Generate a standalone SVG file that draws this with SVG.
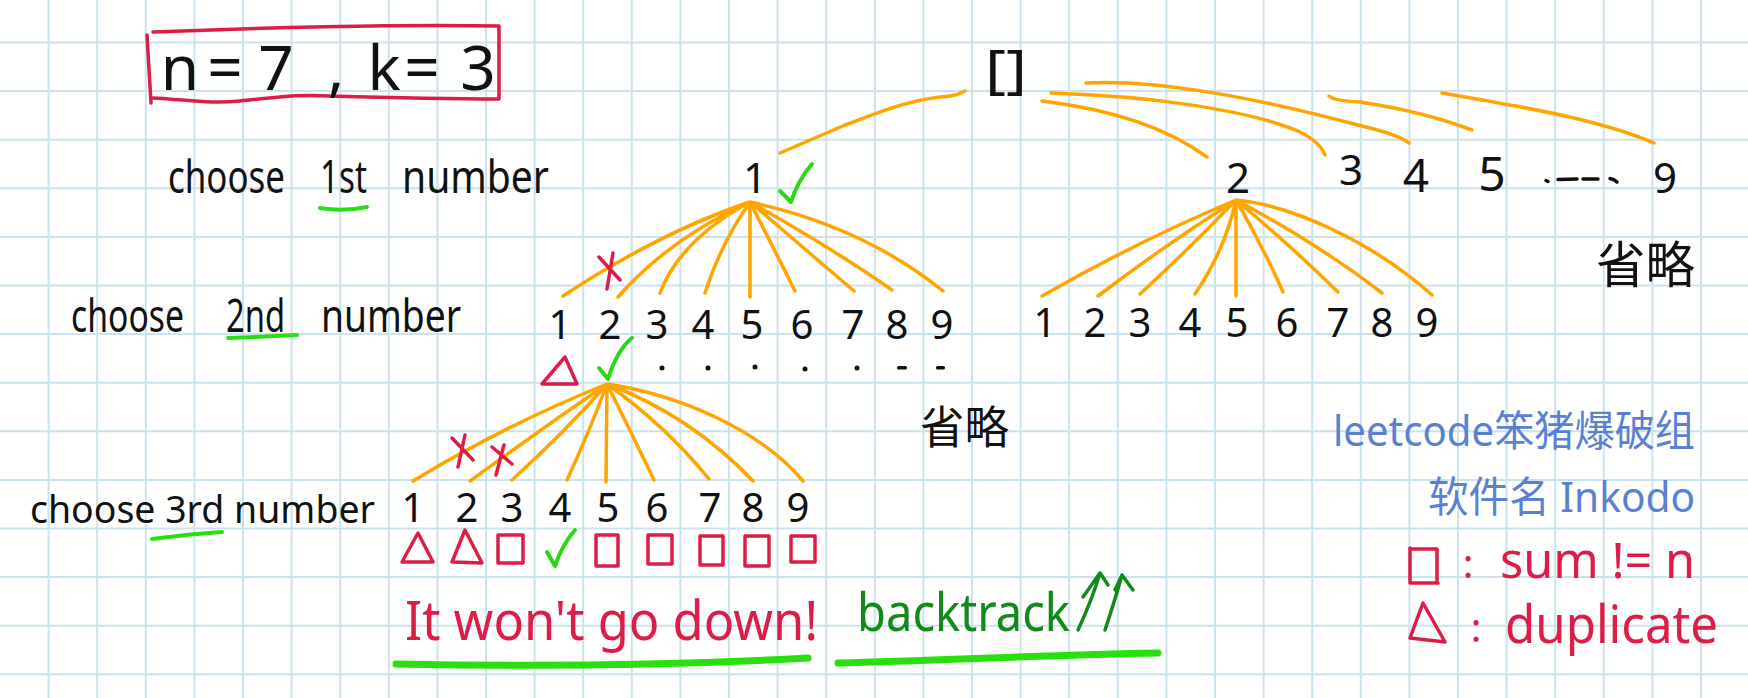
<svg xmlns="http://www.w3.org/2000/svg" width="1748" height="698" viewBox="0 0 1748 698">
<style>
.grid{stroke:#cbe3ec;stroke-width:2;fill:none}
.br{fill:none;stroke:#ffa500;stroke-width:3.5;stroke-linecap:round;stroke-linejoin:round}
.rd{fill:none;stroke:#dc1d48;stroke-width:3.5;stroke-linecap:round;stroke-linejoin:round}
.ck{fill:none;stroke:#2bd615;stroke-width:4;stroke-linecap:round;stroke-linejoin:round}
.ul{fill:none;stroke:#27e00e;stroke-width:4;stroke-linecap:round}
.ulb{fill:none;stroke:#27e00e;stroke-width:7;stroke-linecap:round}
.t{font-family:"Noto Sans","DejaVu Sans","Noto Sans CJK SC",sans-serif;fill:#111}
.d{font-family:"Noto Sans","DejaVu Sans",sans-serif;fill:#111;text-anchor:middle}
.cjk{font-family:"Noto Sans CJK SC","Noto Sans",sans-serif;fill:#111}
.blue{font-family:"Noto Sans","Noto Sans CJK SC",sans-serif;fill:#5b7fd3}
.red{font-family:"Noto Sans","DejaVu Sans",sans-serif;fill:#dc1d48}
.dot{fill:#111}
</style>
<rect width="1748" height="698" fill="#ffffff"/>
<g id="grid">
<path class="grid" d="M48.6 0V698M97.2 0V698M145.8 0V698M194.4 0V698M243 0V698M291.6 0V698M340.2 0V698M388.8 0V698M437.4 0V698M486 0V698M534.6 0V698M583.2 0V698M631.8 0V698M680.4 0V698M729 0V698M777.6 0V698M826.2 0V698M874.8 0V698M923.4 0V698M972 0V698M1020.6 0V698M1069.2 0V698M1117.8 0V698M1166.4 0V698M1215 0V698M1263.6 0V698M1312.2 0V698M1360.8 0V698M1409.4 0V698M1458 0V698M1506.6 0V698M1555.2 0V698M1603.8 0V698M1652.4 0V698M1701 0V698"/>
<path class="grid" d="M0 42.5H1748M0 91.1H1748M0 139.7H1748M0 188.3H1748M0 236.9H1748M0 285.5H1748M0 334.1H1748M0 382.7H1748M0 431.3H1748M0 479.9H1748M0 528.5H1748M0 577.1H1748M0 625.7H1748M0 674.3H1748"/>
</g>

<g id="title">
<path class="rd" d="M147 35 L151 103 M153 32 C250 28 400 24 499 26 L499 99 M153 98 C190 100 210 104 240 101 C280 97 300 94 330 96 C400 98 450 99 499 99"/>
<text class="t" font-size="62" y="90" text-anchor="middle"><tspan x="180">n</tspan><tspan x="225">=</tspan><tspan x="276">7</tspan><tspan x="336">,</tspan><tspan x="384">k</tspan><tspan x="422">=</tspan><tspan x="478">3</tspan></text>
</g>

<g id="labels">
<text class="t" font-size="45" x="168" y="193" textLength="117" lengthAdjust="spacingAndGlyphs">choose</text>
<text class="t" font-size="45" x="320" y="193" textLength="47" lengthAdjust="spacingAndGlyphs">1st</text>
<text class="t" font-size="45" x="402" y="193" textLength="147" lengthAdjust="spacingAndGlyphs">number</text>
<path class="ul" d="M320 208 Q343 212 367 207"/>
<text class="t" font-size="45" x="71" y="332" textLength="113" lengthAdjust="spacingAndGlyphs">choose</text>
<text class="t" font-size="45" x="226" y="332" textLength="59" lengthAdjust="spacingAndGlyphs">2nd</text>
<text class="t" font-size="45" x="321" y="332" textLength="140" lengthAdjust="spacingAndGlyphs">number</text>
<path class="ul" d="M228 338 Q260 337 297 335"/>
<text class="t" font-size="39" x="30" y="523" textLength="345" lengthAdjust="spacingAndGlyphs">choose 3rd number</text>
<path class="ul" d="M152 539 Q190 534 222 532"/>
</g>

<g id="connectors">
<path class="br" d="M965 91 Q958 95 950 96 C910 99 880 112 845 125 L780 153"/>
<path class="br" d="M1042 101 C1117 110 1170 130 1207 157"/>
<path class="br" d="M1051 93 C1150 96 1250 110 1300 132 Q1320 142 1325 155"/>
<path class="br" d="M1086 83 C1150 79 1250 96 1358 125 Q1400 135 1409 143"/>
<path class="br" d="M1329 96 Q1335 101 1360 102 C1400 108 1440 118 1472 130"/>
<path class="br" d="M1442 93 C1530 108 1600 120 1654 143"/>
<path class="br" d="M750 202 Q660 232 563 296 M750 202 Q670 238 618 297 M750 202 Q680 240 660 293 M750 202 Q720 245 705 293 M750 202 L750 297 M750 202 Q772 245 795 291 M750 202 Q800 245 854 291 M750 202 Q835 250 892 290 M750 202 C810 215 880 240 943 291"/>
<path class="br" d="M1236 200 Q1140 240 1042 296 M1236 200 Q1165 245 1098 296 M1236 200 Q1190 248 1140 294 M1236 200 Q1225 250 1195 294 M1236 200 L1236 296 M1236 200 Q1262 245 1283 292 M1236 200 Q1290 245 1338 292 M1236 200 Q1320 245 1382 293 M1236 200 C1290 205 1370 240 1432 295"/>
<path class="br" d="M607 384 Q505 425 413 481 M607 384 Q540 430 470 481 M607 384 Q565 432 512 480 M607 384 Q590 430 567 480 M607 384 L606 482 M607 384 Q630 430 654 480 M607 384 Q665 425 709 479 M607 384 Q690 415 753 481 M607 384 C680 395 760 430 803 481"/>
</g>

<g id="root"><text class="t" font-size="52" x="985" y="88" textLength="42" lengthAdjust="spacingAndGlyphs">[]</text></g>

<g id="level1">
<text class="d" font-size="42" x="755" y="193">1</text>
<path class="ck" d="M780 191 L791 202 Q798 180 812 164"/>
<text class="d" font-size="42" x="1238" y="193">2</text>
<text class="d" font-size="42" x="1351" y="185">3</text>
<text class="d" font-size="46" x="1416" y="192">4</text>
<text class="d" font-size="48" x="1492" y="191">5</text>
<path d="M1546 180.5 L1548 181.5 M1558 179.5 L1577 179 M1583 179 L1598 179 M1610 178.5 Q1614 179 1617 182" fill="none" stroke="#111" stroke-width="3.5" stroke-linecap="round"/>
<text class="d" font-size="42" x="1665" y="193">9</text>
<text class="cjk" font-size="50" x="1596" y="283" textLength="99" lengthAdjust="spacingAndGlyphs">省略</text>
</g>

<g id="level2-from1">
<text class="d" font-size="40" y="339"><tspan x="560">1</tspan><tspan x="610">2</tspan><tspan x="657">3</tspan><tspan x="703">4</tspan><tspan x="752">5</tspan><tspan x="802">6</tspan><tspan x="853">7</tspan><tspan x="897">8</tspan><tspan x="942">9</tspan></text>
<path class="rd" d="M599 257 L620 280 M613 253 L607 289"/>
<path class="rd" d="M565 357 L542 384 L577 384 Z"/>
<path class="ck" d="M599 368 L608 379 Q617 350 632 338"/>
<g class="dot"><circle cx="662" cy="368" r="2.5"/><circle cx="708" cy="368" r="2.5"/><circle cx="755" cy="367" r="2.5"/><circle cx="805" cy="369" r="2.5"/><circle cx="857" cy="368" r="2.5"/><rect x="897" y="366" width="10" height="3.5" rx="1.5"/><rect x="936" y="366" width="9" height="3.5" rx="1.5"/></g>
<text class="cjk" font-size="45" x="920" y="444" textLength="89" lengthAdjust="spacingAndGlyphs">省略</text>
</g>

<g id="level2-from2">
<text class="d" font-size="40" y="337"><tspan x="1045">1</tspan><tspan x="1095">2</tspan><tspan x="1140">3</tspan><tspan x="1190">4</tspan><tspan x="1237">5</tspan><tspan x="1287">6</tspan><tspan x="1338">7</tspan><tspan x="1382">8</tspan><tspan x="1427">9</tspan></text>
</g>

<g id="level3">
<text class="d" font-size="40" y="522"><tspan x="413">1</tspan><tspan x="467">2</tspan><tspan x="512">3</tspan><tspan x="560">4</tspan><tspan x="608">5</tspan><tspan x="657">6</tspan><tspan x="710">7</tspan><tspan x="753">8</tspan><tspan x="798">9</tspan></text>
<path class="rd" d="M452 438 L473 460 M465 435 L458 467 M492 447 L512 464 M504 445 L496 475"/>
<path class="rd" d="M418 533 L402 562 L433 562 Z M465 530 L452 562 L482 563 Z"/>
<path class="rd" d="M498 535 H523 V563 H498 Z M596 535 H618 V566 H596 Z M648 535 H672 V564 H648 Z M700 536 H723 V565 H700 Z M745 536 H769 V566 H745 Z M791 536 H815 V562 H791 Z"/>
<path class="ck" d="M547 552 L555 566 Q562 545 575 530"/>
</g>

<g id="notes">
<text class="red" font-size="54" x="405" y="640" textLength="413" lengthAdjust="spacingAndGlyphs">It won't go down!</text>
<path class="ulb" d="M396 664 C550 667 700 664 808 658"/>
<text font-family="Noto Sans, DejaVu Sans, sans-serif" fill="#128a1a" font-size="52" x="857" y="631" textLength="213" lengthAdjust="spacingAndGlyphs">backtrack</text>
<path d="M1078 630 Q1092 600 1100 573 M1083 597 L1100 573 L1108 585 M1105 630 Q1115 600 1122 575 M1115 590 L1122 575 L1133 590" fill="none" stroke="#128a1a" stroke-width="3.5" stroke-linecap="round" stroke-linejoin="round"/>
<path class="ulb" d="M838 663 C950 660 1050 655 1158 653"/>
</g>

<g id="legend">
<text class="blue" font-size="42" x="1333" y="446" textLength="362" lengthAdjust="spacingAndGlyphs">leetcode笨猪爆破组</text>
<text class="blue" font-size="42" x="1428" y="512" textLength="267" lengthAdjust="spacingAndGlyphs">软件名 Inkodo</text>
<path class="rd" d="M1410 549 H1437 V583 M1410 548 V583 H1438"/>
<text class="red" font-size="40" x="1468" y="578" text-anchor="middle">:</text>
<text class="red" font-size="50" x="1500" y="578" textLength="195" lengthAdjust="spacingAndGlyphs">sum != n</text>
<path class="rd" d="M1423 603 L1410 638 L1445 642 Z"/>
<text class="red" font-size="40" x="1476" y="642" text-anchor="middle">:</text>
<text class="red" font-size="52" x="1505" y="643" textLength="213" lengthAdjust="spacingAndGlyphs">duplicate</text>
</g>
</svg>
